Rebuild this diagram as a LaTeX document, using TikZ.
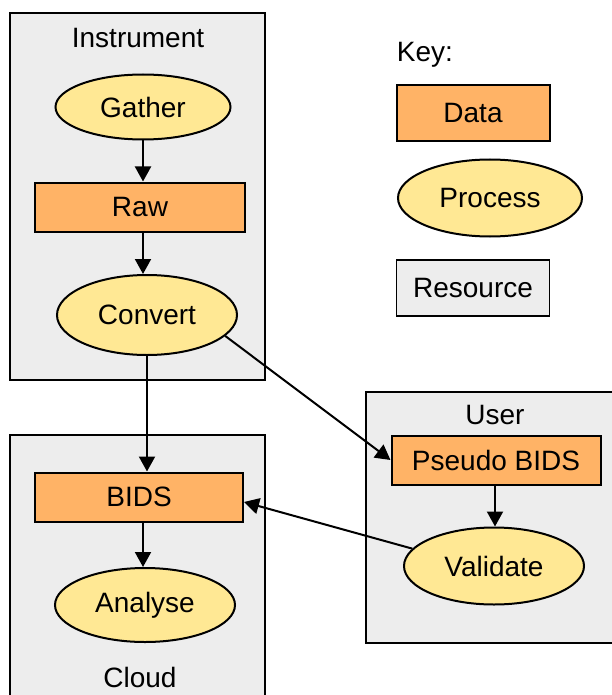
\documentclass[tikz,border=0pt]{standalone}
\usepackage{fontspec}
\setmainfont{Liberation Sans}
\usetikzlibrary{arrows.meta, shapes, positioning}
\usepackage{xcolor}

\definecolor{datafill}{HTML}{FFB366}
\definecolor{procfill}{HTML}{FFE894}
\definecolor{resfill}{HTML}{EDEDED}

\tikzset{
  every node/.style={font=\fontsize{28}{33}\selectfont, inner sep=0pt},
  data/.style={draw, line width=2pt, fill=datafill, rectangle},
  proc/.style={draw, line width=2pt, fill=procfill, ellipse},
  res/.style={draw, line width=1.8pt, fill=resfill, rectangle},
  flow/.style={line width=2pt, -{Triangle[length=15pt, width=16pt]}}
}

\begin{document}
\begin{tikzpicture}[x=1pt, y=-1pt]
  \useasboundingbox (0,0) rectangle (611,695);

  % resource boxes
  \node[res, minimum width=255, minimum height=367] (instr) at (137.5,196.5) {};
  \node[res, minimum width=255, minimum height=264] (cloud) at (137.5,567) {};
  \node[res, minimum width=247, minimum height=251] (user) at (489.5,517.5) {};
  \node (instrlbl) at (138,38) {Instrument};
  \node (cloudlbl) at (140,677) {Cloud};
  \node (userlbl) at (495,415) {User};

  % instrument
  \node[proc, minimum width=175, minimum height=65] (gather) at (143,107) {Gather};
  \node[data, minimum width=210, minimum height=49] (raw) at (140,207) {Raw};
  \node[proc, minimum width=180, minimum height=80] (convert) at (147,315) {Convert};

  % cloud
  \node[data, minimum width=208, minimum height=49] (bids) at (139,497) {BIDS};
  \node[proc, minimum width=180, minimum height=74] (analyse) at (145,605) {Analyse};

  % user
  \node[data, minimum width=209, minimum height=49] (pseudo) at (496,460) {Pseudo BIDS};
  \node[proc, minimum width=180, minimum height=77] (validate) at (494,566) {Validate};

  % key
  \node (key) at (425,55) {Key:};
  \node[data, minimum width=153, minimum height=56] (keydata) at (473,113) {Data};
  \node[proc, minimum width=184, minimum height=77] (keyproc) at (490,198) {Process};
  \node[res, minimum width=153, minimum height=56] (keyres) at (473,288) {Resource};

  % arrows
  \draw[flow] (gather.south -| 143,0) -- (raw.north -| 143,0);
  \draw[flow] (raw.south -| 143,0) -- (convert.north -| 143,0);
  \draw[flow] (convert.south) -- (convert.south |- bids.north);
  \draw[flow] (bids.south -| 143,0) -- (analyse.north -| 143,0);
  \draw[flow] (convert.-15) -- (pseudo.west);
  \draw[flow] (pseudo.south -| 495,0) -- (validate.north -| 495,0);
  \draw[flow] (validate.168) -- ([yshift=-5pt]bids.east);
\end{tikzpicture}
\end{document}
